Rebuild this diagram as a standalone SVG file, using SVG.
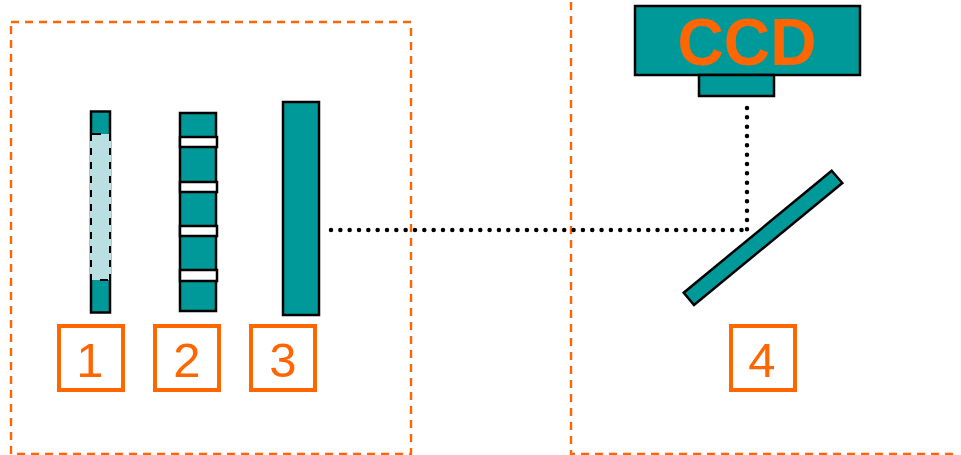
<svg xmlns="http://www.w3.org/2000/svg" width="961" height="455" viewBox="0 0 961 455">
<style>
.frame{fill:none;stroke:#ff6600;stroke-width:2.400;stroke-dasharray:8 6}
.part{fill:#009999;stroke:#000;stroke-width:2.500}
.slot{fill:#fff;stroke:#000;stroke-width:2.500}
.lab{fill:#fff;stroke:#ff6600;stroke-width:4}
.num{fill:#ff6600;font-family:"Liberation Sans",Arial,sans-serif;font-size:49px;text-anchor:middle}
.ray{fill:none;stroke:#000;stroke-width:4.500;stroke-linecap:round;stroke-dasharray:0 9.33}
</style>
<rect width="961" height="455" fill="#fff"/>
<g id="frames">
<rect class="frame" x="11" y="22" width="400" height="432"/>
<path class="frame" d="M571 2V454H957"/>
</g>
<g id="connectors">
<path class="ray" d="M331 230H747"/>
<path class="ray" d="M747 108V230"/>
</g>
<g id="part-1">
<rect class="part" x="91" y="111.500" width="19" height="201"/>
<rect x="90" y="134" width="21" height="146" fill="#b9dfe3"/>
<path d="M91 134V280M110 134V280" fill="none" stroke="#000" stroke-width="2" stroke-dasharray="7 7"/>
<path d="M91 134H101M100 280H108" fill="none" stroke="#000" stroke-width="2"/>
</g>
<g id="part-2">
<rect class="part" x="180" y="113" width="36" height="198"/>
<rect class="slot" x="180" y="137" width="37" height="10"/>
<rect class="slot" x="180" y="182" width="37" height="10"/>
<rect class="slot" x="180" y="226" width="37" height="10"/>
<rect class="slot" x="180" y="270" width="37" height="11"/>
</g>
<g id="part-3">
<rect class="part" x="283" y="102" width="36" height="213"/>
</g>
<g id="ccd">
<rect class="part" x="635" y="6" width="225" height="69"/>
<rect class="part" x="699" y="75" width="75" height="21"/>
<text x="677.500" y="64.500" fill="#ff6600" font-family="'Liberation Sans',Arial,sans-serif" font-size="66" font-weight="700" textLength="139" lengthAdjust="spacingAndGlyphs">CCD</text>
</g>
<g id="mirror">
<polygon class="part" points="831.700,170.700 842.300,183 694,305 683.700,292.700"/>
</g>
<g id="label-1"><rect class="lab" x="59" y="326" width="64" height="64"/><text class="num" x="90" y="376.500">1</text></g>
<g id="label-2"><rect class="lab" x="155" y="326" width="64" height="64"/><text class="num" x="187" y="376.500">2</text></g>
<g id="label-3"><rect class="lab" x="251" y="326" width="64" height="64"/><text class="num" x="283" y="376.500">3</text></g>
<g id="label-4"><rect class="lab" x="731" y="326" width="64" height="64"/><text class="num" x="762" y="376.500">4</text></g>
</svg>
